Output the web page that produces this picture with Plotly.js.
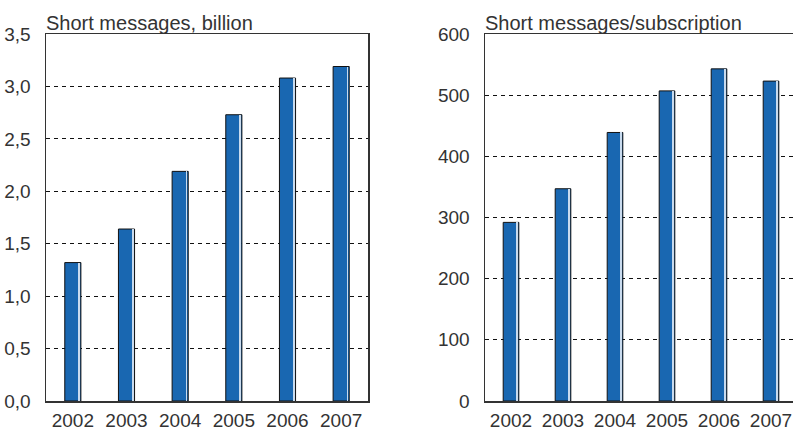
<!DOCTYPE html>
<html>
<head>
<meta charset="utf-8">
<script src="https://cdn.plot.ly/plotly-3.0.1.min.js"></script>
<style>
html,body{margin:0;padding:0;overflow:hidden;background:#fff;}
#chart{width:800px;height:432px;}
</style>
</head>
<body>
<div id="chart"></div>
<script>
var years = ['2002','2003','2004','2005','2006','2007'];
var messagesBillion = [1.32, 1.64, 2.19, 2.73, 3.08, 3.19];
var messagesPerSubscription = [292, 347, 439, 507, 543, 523];
var leftTitle = 'Short messages, billion';
var rightTitle = 'Short messages/subscription';

var barColor = '#1967b1';
var stripeColor = '#c9dbee';
var txt = '#333333';
var fontFam = 'Liberation Sans, Arial, sans-serif';

function mainBar(y, xa, ya) {
  return {type:'bar', x:years, y:y, xaxis:xa, yaxis:ya,
    width:0.3, offset:-0.15,
    marker:{color:barColor, line:{color:'#111', width:1}},
    hoverinfo:'skip', showlegend:false};
}
function stripe(y, xa, ya) {
  return {type:'bar', x:years, y:y, xaxis:xa, yaxis:ya,
    width:0.03, offset:0.105,
    marker:{color:stripeColor, line:{width:0}},
    hoverinfo:'skip', showlegend:false};
}

var data = [
  mainBar(messagesBillion,'x','y'), stripe(messagesBillion,'x','y'),
  mainBar(messagesPerSubscription,'x2','y2'), stripe(messagesPerSubscription,'x2','y2')
];

var W = 800, L = 46, R = 3;
var pw = W - L - R;
function xax(d0, d1, anchor) {
  return {domain:[d0, d1], anchor:anchor, type:'category',
    showline:true, linecolor:'#333', linewidth:1.5, mirror:true,
    showgrid:false, ticks:'', tickfont:{family:fontFam, size:19, color:txt},
    ticklabelstandoff:2, fixedrange:true};
}
function yax(range, dtick, fmt, anchor) {
  return {range:range, dtick:dtick, tick0:0, tickformat:fmt, anchor:anchor,
    showline:true, linecolor:'#333', linewidth:1.5, mirror:true,
    showgrid:true, gridcolor:'#111', gridwidth:1, griddash:'4px,4px',
    zeroline:false, ticks:'', ticklabelstandoff:10,
    tickfont:{family:fontFam, size:19, color:txt}, fixedrange:true};
}

var layout = {
  width: W, height: 432,
  margin:{l:L, r:R, t:34, b:31},
  paper_bgcolor:'#fff', plot_bgcolor:'#fff',
  separators:', ',
  barmode:'overlay',
  bargap:0,
  xaxis: xax(0, (368-L)/pw, 'y'),
  yaxis: yax([0,3.5], 0.5, '.1f', 'x'),
  xaxis2: xax((485-L)/pw, 1, 'y2'),
  yaxis2: yax([0,600], 100, 'd', 'x2'),
  annotations:[
    {text:leftTitle, xref:'x domain', yref:'y domain', x:0, y:1, xanchor:'left', yanchor:'bottom',
     showarrow:false, yshift:-2, xshift:-2, font:{family:fontFam, size:20, color:txt}},
    {text:rightTitle, xref:'x2 domain', yref:'y2 domain', x:0, y:1, xanchor:'left', yanchor:'bottom',
     showarrow:false, yshift:-2, xshift:-2, font:{family:fontFam, size:20, color:txt}}
  ]
};

Plotly.newPlot('chart', data, layout, {staticPlot:true, displayModeBar:false});
</script>
</body>
</html>
